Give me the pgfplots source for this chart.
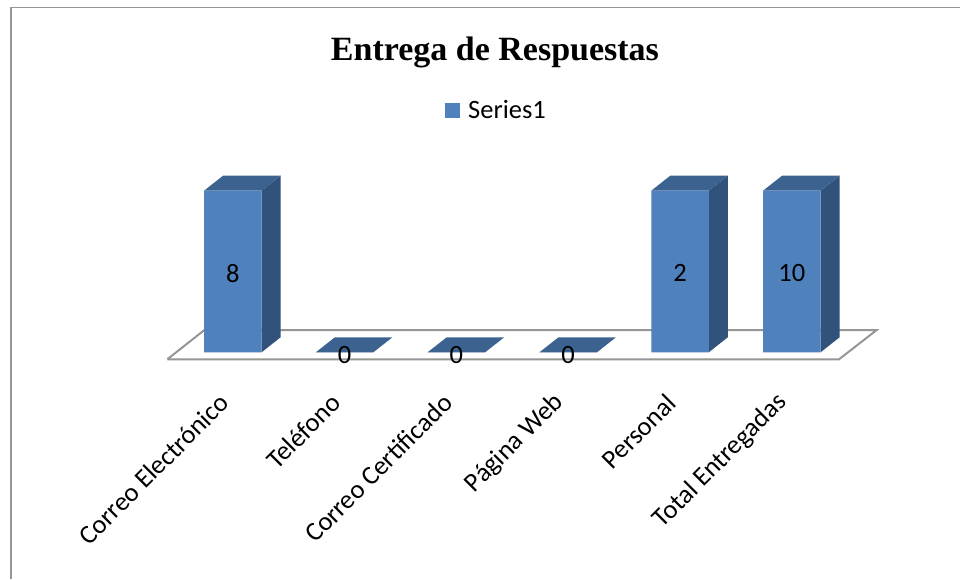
\documentclass[border=0pt]{standalone}
\usepackage{pgfplots}
\usepackage{pgfplotstable}
\usepackage{fontspec}
\pgfplotsset{compat=1.18}
\setmainfont{Carlito}
\newfontfamily\titlefont{Liberation Serif}
\definecolor{front}{HTML}{4F81BD}
\definecolor{sidec}{HTML}{31527A}
\definecolor{topc}{HTML}{3C6390}
\definecolor{grayl}{HTML}{969696}
\pgfplotstableread{
x h ylab val
0 1 0.49 8
1 0 -0.015 0
2 0 -0.015 0
3 0 -0.015 0
4 1 0.49 2
5 1 0.49 10
}\datatable
\pgfplotsset{
  sideface/.style={fill=sidec,draw=none,forget plot},
  topface/.style={fill=topc,draw=none,forget plot},
}
\begin{document}
\begin{tikzpicture}
\path[use as bounding box] (0pt,-217pt) rectangle (960pt,362pt);
\fill[white] (0pt,-217pt) rectangle (960pt,362pt);
\fill[grayl] (9.5pt,-217pt) rectangle (12pt,355pt);
\fill[grayl] (9.5pt,353.6pt) rectangle (960pt,355pt);
\begin{axis}[
  scale only axis, width=960pt, height=362pt,
  xmin=-2.0823, xmax=6.5045, ymin=-0.06, ymax=2.18,
  clip=false,
  axis line style={draw=none},
  major tick style={draw=none},
  ymajorticks=false,
  xtick={0,1,2,3,4,5},
  xticklabels={Correo Electrónico,Teléfono,Correo Certificado,Página Web,Personal,Total Entregadas},
  xticklabel style={rotate=45,anchor=east,font=\fontsize{26.5}{30}\selectfont,xshift=-28.6pt,yshift=-19.7pt},
  title={\titlefont\bfseries Entrega de Respuestas},
  title style={at={(axis description cs:0.5156,0.838)},anchor=center,font=\fontsize{34}{38}\selectfont},
  legend style={at={(axis description cs:0.5172,0.696)},anchor=center,draw=none,fill=none,
    font=\fontsize{26.5}{30}\selectfont,inner sep=0pt,/tikz/every odd column/.style={column sep=6pt}},
]
% floor
\addplot[fill=white,draw=grayl,line width=2pt,forget plot] coordinates {(-0.5859,-0.0433) (5.4222,-0.0433) (5.7594,0.138) (-0.254,0.138) (-0.5859,-0.0433)};
% depth faces of the tall bars
\addplot[sideface] coordinates {(0.2572,0) (0.4272,0.0928) (0.4272,1.0928) (0.2572,1) (0.2572,0)};
\addplot[topface] coordinates {(-0.2572,1) (-0.0872,1.0928) (0.4272,1.0928) (0.2572,1) (-0.2572,1)};
\addplot[sideface] coordinates {(4.2572,0) (4.4272,0.0928) (4.4272,1.0928) (4.2572,1) (4.2572,0)};
\addplot[topface] coordinates {(3.7428,1) (3.9128,1.0928) (4.4272,1.0928) (4.2572,1) (3.7428,1)};
\addplot[sideface] coordinates {(5.2572,0) (5.4272,0.0928) (5.4272,1.0928) (5.2572,1) (5.2572,0)};
\addplot[topface] coordinates {(4.7428,1) (4.9128,1.0928) (5.4272,1.0928) (5.2572,1) (4.7428,1)};
% flat bars of value zero
\addplot[topface] coordinates {(0.7428,0) (0.9128,0.0928) (1.4272,0.0928) (1.2572,0) (0.7428,0)};
\addplot[topface] coordinates {(1.7428,0) (1.9128,0.0928) (2.4272,0.0928) (2.2572,0) (1.7428,0)};
\addplot[topface] coordinates {(2.7428,0) (2.9128,0.0928) (3.4272,0.0928) (3.2572,0) (2.7428,0)};
% front faces
\addplot[ybar,bar width=57.5pt,fill=front,draw=none,
  legend image code/.code={\fill[front] (0pt,-7.5pt) rectangle (15pt,7.5pt);}] table[x=x,y=h] {\datatable};
\addlegendentry{Series1}
% data labels
\addplot[only marks,mark=none,forget plot,point meta=explicit symbolic,
  nodes near coords,nodes near coords align={anchor=center},
  every node near coord/.append style={font=\fontsize{26.5}{30}\selectfont,inner sep=0pt,black}]
  table[x=x,y=ylab,meta=val] {\datatable};
\end{axis}
\end{tikzpicture}
\end{document}
